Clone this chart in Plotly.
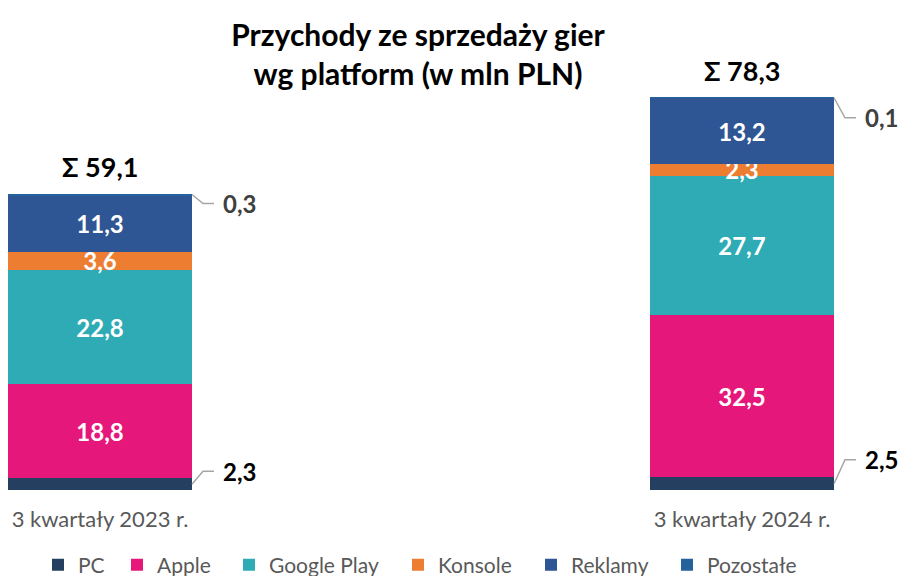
import plotly.graph_objects as go

# ---- data ----
categories = ["3 kwartały 2023 r.", "3 kwartały 2024 r."]
series_names = ["PC", "Apple", "Google Play", "Konsole", "Reklamy", "Pozostałe"]
pc = [2.3, 2.5]
apple = [18.8, 32.5]
google_play = [22.8, 27.7]
konsole = [3.6, 2.3]
reklamy = [11.3, 13.2]
pozostale = [0.3, 0.1]
title_text = "Przychody ze sprzedaży gier<br>wg platform (w mln PLN)"

# ---- style ----
colors = {"PC": "#243F60", "Apple": "#E6177B", "Google Play": "#2EABB4",
          "Konsole": "#ED7D31", "Reklamy": "#2E5594", "Pozostałe": "#25619A"}
legend_px = [61, 140, 252, 421, 554, 690]   # legend square centres (px)
FONT = "Lato, 'Open Sans', sans-serif"
W, H = 902, 576
MB = 86
plot_h = H - MB
px_per_x = 642.0
x0 = -100.0 / px_per_x
x1 = x0 + W / px_per_x
bar_w = 184.0 / px_per_x
y_top = 97.75
px_per_y = plot_h / y_top

def fmt(v):
    return f"{v:.1f}".replace(".", ",")

xs = list(range(len(categories)))
values = [pc, apple, google_play, konsole, reklamy, pozostale]
inner = {"Apple", "Google Play", "Konsole", "Reklamy"}

fig = go.Figure()
legends = {}
for k, (name, vals) in enumerate(zip(series_names, values)):
    lg = "legend" if k == 0 else f"legend{k + 1}"
    legends[lg] = dict(orientation="h", xref="paper", x=(legend_px[k] - 23) / W, xanchor="left",
                       yref="container", y=1 - 565 / H, yanchor="middle",
                       font=dict(family=FONT, size=21, color="#595959"),
                       itemclick=False, itemdoubleclick=False, bgcolor="rgba(0,0,0,0)")
    fig.add_trace(go.Bar(
        x=xs, y=vals, name=name, width=bar_w, legend=lg,
        marker=dict(color=colors[name], line=dict(width=0)),
        text=[fmt(v) for v in vals] if name in inner else None,
        textposition="inside" if name in inner else "none",
        insidetextanchor="middle", textangle=0,
        insidetextfont=dict(family=FONT, size=24, color="white", weight="bold"),
        hoverinfo="skip",
    ))

totals = [sum(v[i] for v in values) for i in xs]

annotations = []
for i in xs:
    annotations.append(dict(x=i, y=totals[i], xref="x", yref="y", text="Σ " + fmt(totals[i]),
                            showarrow=False, yanchor="bottom", yshift=9,
                            font=dict(family=FONT, size=27, color="black", weight="bold")))

pc_dy_px = [13, 24]
poz_dy_px = [-9, -20]
leader_color = "#A6A6A6"
for i in xs:
    xr = i + bar_w / 2
    for ym, dy, val, col in [(pc[i] / 2, pc_dy_px[i], pc[i], "black"),
                             (totals[i] - pozostale[i] / 2, poz_dy_px[i], pozostale[i], "#404040")]:
        yl = ym + dy / px_per_y
        fig.add_trace(go.Scatter(
            x=[xr, xr + 11 / px_per_x, xr + 22 / px_per_x], y=[ym, yl, yl],
            mode="lines", line=dict(color=leader_color, width=1.5),
            showlegend=False, hoverinfo="skip"))
        annotations.append(dict(x=xr + 29 / px_per_x, y=yl, xref="x", yref="y", text=fmt(val),
                                showarrow=False, xanchor="left", yanchor="middle",
                                font=dict(family=FONT, size=24, color=col, weight="bold")))

fig.update_layout(
    width=W, height=H,
    margin=dict(l=0, r=0, t=0, b=MB),
    barmode="stack",
    plot_bgcolor="white", paper_bgcolor="white",
    uniformtext=dict(minsize=24, mode="show"),
    title=dict(text=title_text, x=418 / W, xanchor="center", y=1 - 46 / H, yanchor="middle",
               font=dict(family=FONT, size=30, color="black", weight="bold")),
    xaxis=dict(range=[x0, x1], tickvals=xs, ticktext=categories, showgrid=False,
               zeroline=False, showline=False, ticks="outside", ticklen=10, tickcolor="rgba(0,0,0,0)",
               tickfont=dict(family=FONT, size=22, color="#595959"), fixedrange=True),
    yaxis=dict(range=[0, y_top], visible=False, fixedrange=True),
    annotations=annotations,
    showlegend=True,
    **legends,
)

fig.write_html("out.html", post_script="document.body.style.margin='0';",
               config={"displayModeBar": False})
